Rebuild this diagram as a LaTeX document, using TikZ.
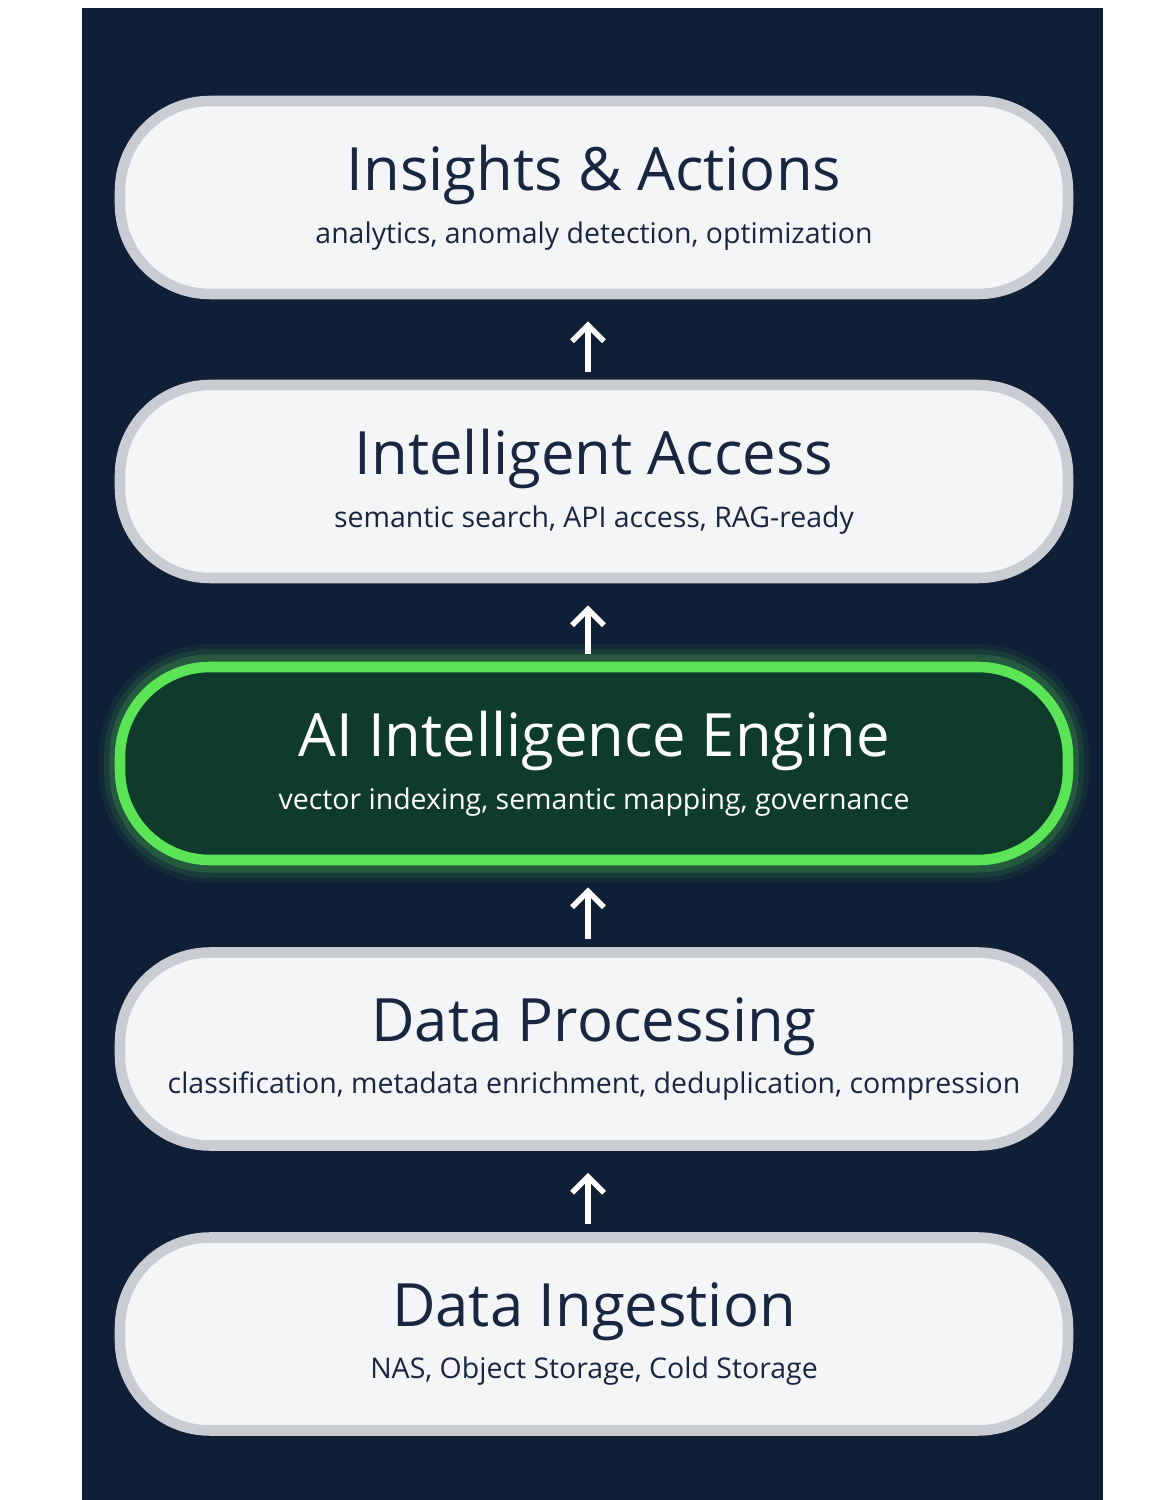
\documentclass[tikz,border=0pt]{standalone}
\usepackage{fontspec}
\setmainfont{Open Sans}
\usetikzlibrary{positioning,arrows.meta}
\definecolor{navy}{HTML}{0F1F36}
\definecolor{boxfill}{HTML}{F4F5F6}
\definecolor{boxline}{HTML}{C9CDD3}
\definecolor{ink}{HTML}{1A2540}
\definecolor{engfill}{HTML}{0E3B2C}
\definecolor{glow}{HTML}{5BE455}
\tikzset{
  layer/.style={draw=boxline, line width=3pt, fill=boxfill, rounded corners=0.9cm,
    minimum width=9.48cm, minimum height=1.93cm, align=center, text=ink},
  engine/.style={layer, draw=glow, fill=engfill, text=white},
  uparrow/.style={-{Straight Barb[length=1.6mm,width=3.2mm]}, white, line width=1.6pt}
}
\newcommand{\layertext}[2]{{\fontsize{17}{20}\selectfont #1}\\[3pt]{\fontsize{8.1}{10}\selectfont #2}}
\begin{document}
\begin{tikzpicture}[x=1cm,y=1cm]
  \useasboundingbox (0,0) rectangle (11.59,15);
  \fill[white] (0,0) rectangle (11.59,15);
  \fill[navy] (0.82,0) rectangle (11.03,14.92);

  \node[layer] (ingest) at (5.94,1.66) {\layertext{Data Ingestion}{NAS, Object Storage, Cold Storage}};
  \node[layer] (proc) at (5.94,4.51) {\layertext{Data Processing}{classification, metadata enrichment, deduplication, compression}};
  % glow around the engine
  \foreach \w/\o in {12/0.06,9/0.1,6/0.18}
    \draw[glow, line width=\w pt, opacity=\o, rounded corners=0.9cm] (1.2,6.38) rectangle (10.68,8.35);
  \node[engine] (engine) at (5.94,7.365) {\layertext{AI Intelligence Engine}{vector indexing, semantic mapping, governance}};
  \node[layer] (access) at (5.94,10.185) {\layertext{Intelligent Access}{semantic search, API access, RAG-ready}};
  \node[layer] (insight) at (5.94,13.025) {\layertext{Insights \& Actions}{analytics, anomaly detection, optimization}};

  \draw[uparrow] ([yshift=0.08cm]ingest.north -| 5.88,0) -- ([yshift=-0.22cm]proc.south -| 5.88,0);
  \draw[uparrow] ([yshift=0.08cm]proc.north -| 5.88,0) -- ([yshift=-0.22cm]engine.south -| 5.88,0);
  \draw[uparrow] ([yshift=0.08cm]engine.north -| 5.88,0) -- ([yshift=-0.22cm]access.south -| 5.88,0);
  \draw[uparrow] ([yshift=0.08cm]access.north -| 5.88,0) -- ([yshift=-0.22cm]insight.south -| 5.88,0);
\end{tikzpicture}
\end{document}
